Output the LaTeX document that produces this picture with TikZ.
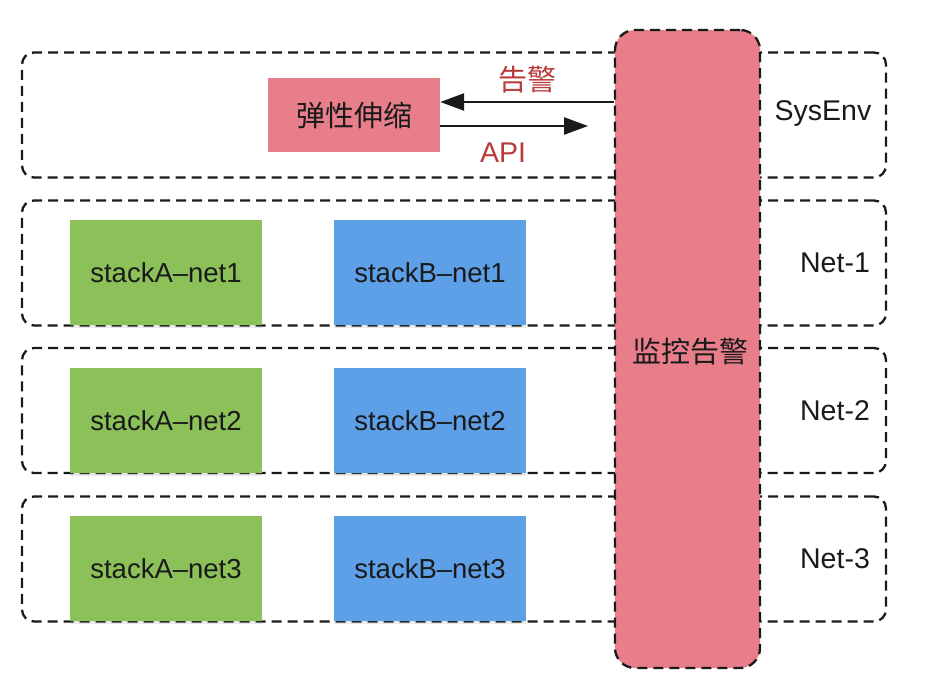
\documentclass[tikz,border=0pt]{standalone}
\usepackage{fontspec}
\setmainfont{Liberation Sans}
\newfontfamily\cjk{Noto Sans CJK SC}
\usetikzlibrary{arrows.meta,shadows}
\definecolor{boxgreen}{HTML}{8CC15A}
\definecolor{boxblue}{HTML}{5DA0E8}
\definecolor{boxpink}{HTML}{E77E8A}
\definecolor{lblred}{HTML}{B83A3A}
\definecolor{txt}{HTML}{1A1A1A}
\begin{document}
\begin{tikzpicture}[x=1pt,y=-1pt,
  netbox/.style={draw=txt, dash pattern=on 10pt off 6pt, line width=2.3pt, rounded corners=12pt,
    minimum width=864pt, minimum height=125pt, inner sep=0pt},
  stackbox/.style={draw=none, minimum width=192pt, minimum height=105pt, inner sep=0pt,
    font=\fontsize{27.5}{32}\selectfont, text=txt,
    drop shadow={shadow xshift=0pt, shadow yshift=-3pt, opacity=0.18}},
  agreen/.style={stackbox, fill=boxgreen},
  bblue/.style={stackbox, fill=boxblue},
  netlbl/.style={font=\fontsize{28.5}{32}\selectfont, text=txt, inner sep=0pt},
  redlbl/.style={font=\fontsize{28.5}{32}\selectfont, text=lblred, inner sep=0pt},
  arr/.style={line width=2.4pt, draw=txt, -{Triangle[length=24pt,width=17pt]}},
]
\useasboundingbox (0,0) rectangle (950,684);
\fill[white] (0,0) rectangle (950,684);

% network zones
\node[netbox] (sys) at (454,115) {};
\node[netbox] (n1) at (454,263) {};
\node[netbox] (n2) at (454,410.5) {};
\node[netbox] (n3) at (454,559) {};

\node[netlbl] (syslbl) at (823,114) {SysEnv};
\node[netlbl] (n1lbl) at (835,263) {Net-1};
\node[netlbl] (n2lbl) at (835,411) {Net-2};
\node[netlbl] (n3lbl) at (835,559) {Net-3};

% stacks
\node[agreen] (a1) at (166,272.5) {stackA–net1};
\node[agreen] (a2) at (166,420.5) {stackA–net2};
\node[agreen] (a3) at (166,568.5) {stackA–net3};
\node[bblue] (b1) at (430,272.5) {stackB–net1};
\node[bblue] (b2) at (430,420.5) {stackB–net2};
\node[bblue] (b3) at (430,568.5) {stackB–net3};

% autoscale box
\node[fill=boxpink, minimum width=172pt, minimum height=74pt, inner sep=0pt,
  font=\cjk\fontsize{29}{32}\selectfont, text=txt] (scale) at (354,115) {弹性伸缩};

% monitor
\node[fill=boxpink, draw=txt, dash pattern=on 10pt off 6pt, line width=2.3pt,
  rounded corners=20pt, minimum width=145pt, minimum height=638pt, inner sep=0pt] (mon) at (687.5,349) {};
\node[font=\cjk\fontsize{29}{32}\selectfont, text=txt, inner sep=0pt] (monlbl) at (690,352) {监控告警};

% arrows
\coordinate (apiend) at (588,126);
\draw[arr] (mon.west |- 0,102) -- (scale.east |- 0,102);
\draw[arr] (scale.east |- 0,126) -- (apiend);
\node[redlbl, font=\cjk\fontsize{29}{32}\selectfont] (alarmlbl) at (527,80) {告警};
\node[redlbl] (apilbl) at (503,153) {API};
\end{tikzpicture}
\end{document}
